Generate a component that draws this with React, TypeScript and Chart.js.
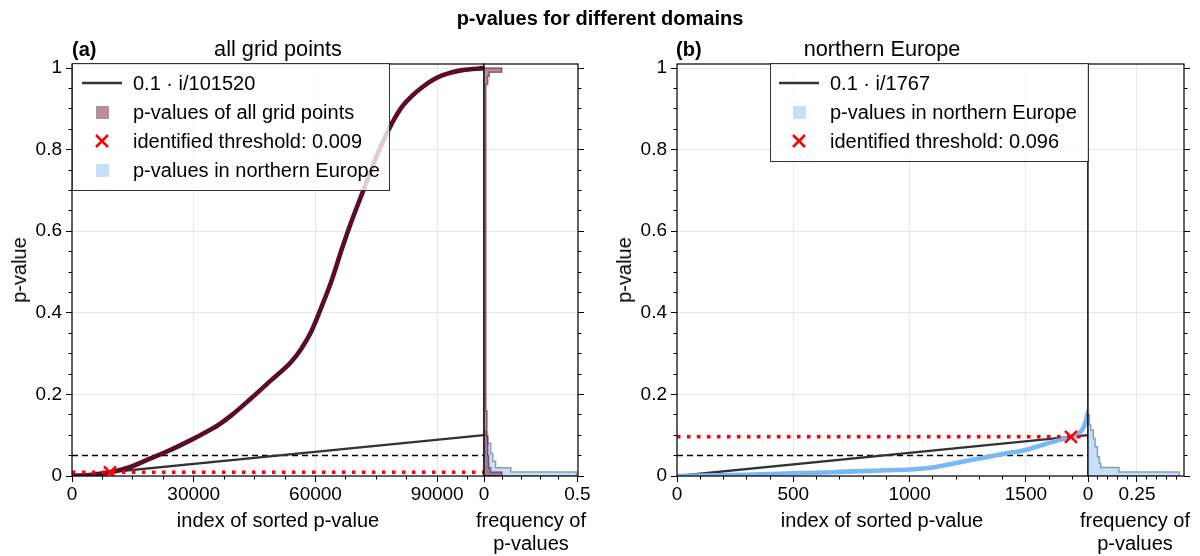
import React, { useEffect, useRef } from "react";
import { Chart, registerables } from "chart.js";

Chart.register(...registerables);

const FONT = "'Liberation Sans', Arial, Helvetica, sans-serif";
Chart.defaults.font.family = FONT;
Chart.defaults.color = "#000";

// ---------- shared axis values ----------
const P_TICKS = [0, 0.2, 0.4, 0.6, 0.8, 1];
const P_MINOR_STEP = 0.05;
const P_MAX = 1.01;
const FDR_Q = 0.1; // end value of the 0.1 · i/N reference line
const HALF_LEVEL = 0.05; // dashed reference level

// ---------- panel (a): all grid points ----------
const A_N = 101520;
const A_INDEX = [0, 5000, 9360, 14400, 19340, 24300, 29260, 34700, 35600, 39200, 44100, 49100, 54050, 56500, 59000, 61500, 64000, 66450, 68900, 71400, 73900, 76400, 78850, 81300, 83800, 86300, 88800, 91200, 93700, 96200, 101520];
const A_PVALUE = [0, 0.003, 0.009, 0.022, 0.043, 0.064, 0.088, 0.117, 0.122, 0.148, 0.19, 0.235, 0.28, 0.312, 0.355, 0.415, 0.48, 0.555, 0.625, 0.69, 0.755, 0.815, 0.865, 0.905, 0.932, 0.953, 0.97, 0.982, 0.99, 0.995, 1.0];
const A_THRESHOLD = 0.009;
const A_THRESHOLD_INDEX = 9360;
const A_INDEX_TICKS = [0, 30000, 60000, 90000];
const A_INDEX_MINOR_STEP = 7500;
const A_FREQ_TICKS = [0, 0.5];
const A_FREQ_MINOR_STEP = 0.1;
const A_FREQ_MAX = 0.503;
const A_ALL_EDGES = [0, 0.01, 0.02, 0.05, 0.1, 0.16, 0.96, 0.98, 0.99, 1.0];
const A_ALL_FREQ = [0.095, 0.035, 0.025, 0.02, 0.016, 0.01, 0.02, 0.028, 0.095];
const A_NE_EDGES = [0, 0.01, 0.02, 0.036, 0.055, 0.08, 0.097, 0.11];
const A_NE_FREQ = [0.495, 0.143, 0.062, 0.047, 0.036, 0.02, 0.012];

// ---------- panel (b): northern Europe ----------
const B_N = 1767;
const B_INDEX = [0, 100, 200, 300, 400, 500, 600, 700, 800, 900, 1000, 1100, 1200, 1300, 1400, 1500, 1570, 1641, 1694, 1725, 1740, 1750, 1758, 1764, 1767];
const B_PVALUE = [0, 0.001, 0.002, 0.003, 0.005, 0.0065, 0.008, 0.01, 0.012, 0.014, 0.016, 0.021, 0.032, 0.043, 0.054, 0.064, 0.076, 0.088, 0.096, 0.104, 0.112, 0.122, 0.135, 0.15, 0.157];
const B_THRESHOLD = 0.096;
const B_THRESHOLD_INDEX = 1694;
const B_INDEX_TICKS = [0, 500, 1000, 1500];
const B_INDEX_MINOR_STEP = 100;
const B_FREQ_TICKS = [0, 0.25];
const B_FREQ_MINOR_STEP = 0.05;
const B_FREQ_MAX = 0.49;
const B_NE_EDGES = [0, 0.01, 0.021, 0.031, 0.047, 0.072, 0.092, 0.113, 0.125, 0.15];
const B_NE_FREQ = [0.466, 0.158, 0.065, 0.058, 0.048, 0.036, 0.027, 0.014, 0.007];

// ---------- colours ----------
const MAROON = "#5c0b29";
const MAROON_FILL = "rgba(91,10,39,0.46)";
const MAROON_EDGE = "rgba(91,10,39,0.55)";
const BLUE = "#78b8f4";
const BLUE_FILL = "#c6e0fa";
const BLUE_EDGE = "#8d9db3";
const GRID = "#e8e8e8";
const RED = "#ff0000";

type Pt = { x: number; y: number };
const pts = (xs: number[], ys: number[]): Pt[] => xs.map((x, i) => ({ x, y: ys[i] }));

function histOutline(edges: number[], freqs: number[]): Pt[] {
  const out: Pt[] = [{ x: 0, y: edges[0] }];
  freqs.forEach((f, i) => {
    out.push({ x: f, y: edges[i] });
    out.push({ x: f, y: edges[i + 1] });
  });
  out.push({ x: 0, y: edges[edges.length - 1] });
  return out;
}

const axesDecor = {
  id: "axesDecor",
  afterDatasetsDraw(chart: any, _args: any, opts: any) {
    const { ctx, chartArea: a } = chart;
    ctx.save();
    ctx.strokeStyle = "#000";
    ctx.lineWidth = 1;
    for (const t of opts.ticks || []) {
      const s = chart.scales[t.id];
      const n = Math.floor((s.max - s.min) / t.minor + 1e-6);
      for (let k = 0; k <= n; k++) {
        const v = s.min + k * t.minor;
        const isMajor = t.majors.some((m: number) => Math.abs(m - v) < t.minor * 1e-3);
        const len = isMajor ? 6 : 3.5;
        const p = Math.floor(s.getPixelForValue(v)) + 0.5;
        ctx.beginPath();
        if (t.side === "bottom") {
          ctx.moveTo(p, a.bottom);
          ctx.lineTo(p, a.bottom + len);
        } else if (t.side === "left") {
          ctx.moveTo(a.left - len, p);
          ctx.lineTo(a.left, p);
        } else {
          ctx.moveTo(a.right, p);
          ctx.lineTo(a.right + len, p);
        }
        ctx.stroke();
      }
    }
    ctx.lineWidth = 1.2;
    ctx.strokeRect(a.left, a.top, a.right - a.left, a.bottom - a.top);
    ctx.restore();
  },
};

function lineDs(data: Pt[], color: string, width: number, order: number, dash: number[] = []) {
  return { data, borderColor: color, borderWidth: width, borderDash: dash, pointRadius: 0, fill: false, order, tension: 0 };
}

const tickFont = { size: 19, family: FONT };

function mainConfig(o: any) {
  return {
    type: "line",
    data: {
      datasets: [
        {
          ...lineDs([{ x: o.thrIdx, y: o.thr }], RED, 2.5, 0),
          showLine: false,
          pointStyle: "crossRot",
          pointRadius: 8.5,
          pointBorderWidth: 2.5,
          pointBorderColor: RED,
          pointBackgroundColor: RED,
        },
        lineDs([{ x: 0, y: o.thr }, { x: o.n, y: o.thr }], RED, 3.5, 1, [3.5, 6.5]),
        { ...lineDs(pts(o.index, o.pvalue), o.color, 4.6, 2), cubicInterpolationMode: "monotone", borderCapStyle: "round", borderJoinStyle: "round" },
        lineDs([{ x: 0, y: 0 }, { x: o.n, y: FDR_Q }], "#333333", 2.3, 3),
        lineDs([{ x: 0, y: HALF_LEVEL }, { x: o.n, y: HALF_LEVEL }], "#000", 1.5, 4, [6, 4]),
      ],
    },
    plugins: [axesDecor],
    options: {
      responsive: false,
      animation: false,
      events: [],
      layout: { padding: { left: 0, right: o.padRight, top: 64, bottom: 0 } },
      plugins: {
        legend: { display: false },
        tooltip: { enabled: false },
        axesDecor: {
          ticks: [
            { id: "x", side: "bottom", minor: o.xMinor, majors: o.xTicks },
            { id: "y", side: "left", minor: P_MINOR_STEP, majors: P_TICKS },
          ],
        },
      },
      scales: {
        x: {
          type: "linear",
          min: 0,
          max: o.n,
          afterBuildTicks: (s: any) => { s.ticks = o.xTicks.map((v: number) => ({ value: v })); },
          afterFit: (s: any) => { s.height = 80; },
          grid: { color: GRID, drawTicks: false },
          border: { display: false },
          ticks: { padding: 7, color: "#000", font: tickFont, autoSkip: false, maxRotation: 0, callback: (v: any) => String(v) },
        },
        y: {
          type: "linear",
          min: 0,
          max: P_MAX,
          afterBuildTicks: (s: any) => { s.ticks = P_TICKS.map((v) => ({ value: v })); },
          afterFit: (s: any) => { s.width = o.yWidth; },
          grid: { color: GRID, drawTicks: false },
          border: { display: false },
          ticks: { padding: 10, color: "#000", font: tickFont, autoSkip: false, callback: (v: any) => String(v) },
        },
      },
    },
  };
}

function histConfig(o: any) {
  return {
    type: "line",
    data: {
      datasets: o.layers.map((l: any) => ({
        data: histOutline(l.edges, l.freq),
        borderColor: l.edge,
        borderWidth: 1.5,
        backgroundColor: l.fill,
        fill: "shape",
        pointRadius: 0,
        tension: 0,
        order: l.order,
      })),
    },
    plugins: [axesDecor],
    options: {
      responsive: false,
      animation: false,
      events: [],
      layout: { padding: { left: o.padLeft, right: o.padRight, top: 64, bottom: 0 } },
      plugins: {
        legend: { display: false },
        tooltip: { enabled: false },
        axesDecor: {
          ticks: [
            { id: "x", side: "bottom", minor: o.xMinor, majors: o.xTicks },
            { id: "y", side: "right", minor: P_MINOR_STEP, majors: P_TICKS },
          ],
        },
      },
      scales: {
        x: {
          type: "linear",
          min: 0,
          max: o.xMax,
          afterBuildTicks: (s: any) => { s.ticks = o.xTicks.map((v: number) => ({ value: v })); },
          afterFit: (s: any) => { s.height = 80; },
          grid: { color: GRID, drawTicks: false },
          border: { display: false },
          ticks: { padding: 7, color: "#000", font: tickFont, autoSkip: false, maxRotation: 0, callback: (v: any) => String(v) },
        },
        y: {
          type: "linear",
          position: "left",
          min: 0,
          max: P_MAX,
          afterBuildTicks: (s: any) => { s.ticks = P_TICKS.map((v) => ({ value: v })); },
          afterFit: (s: any) => { s.width = 0; },
          grid: { color: GRID, drawTicks: false },
          border: { display: false },
          ticks: { display: false },
        },
      },
    },
  };
}

function ChartCanvas({ left, width, config }: { left: number; width: number; config: () => any }) {
  const ref = useRef<HTMLCanvasElement>(null);
  useEffect(() => {
    const chart = new Chart(ref.current as HTMLCanvasElement, config());
    return () => chart.destroy();
  }, []);
  return (
    <canvas
      ref={ref}
      width={width}
      height={556}
      style={{ position: "absolute", left, top: 0, width, height: 556 }}
    />
  );
}

function Text({ children, cx, cy, left, size = 20, bold = false, rotate = false }: any) {
  const lh = Math.round(size * 1.2);
  const style: any = {
    position: "absolute",
    whiteSpace: "nowrap",
    fontFamily: FONT,
    fontSize: size,
    lineHeight: lh + "px",
    fontWeight: bold ? "bold" : "normal",
    color: "#000",
  };
  if (rotate) {
    style.left = cx;
    style.top = cy;
    style.transform = "translate(-50%, -50%) rotate(-90deg)";
  } else if (left !== undefined) {
    style.left = left;
    style.top = cy - lh / 2;
  } else {
    style.left = cx;
    style.top = cy - lh / 2;
    style.transform = "translateX(-50%)";
  }
  return <div style={style}>{children}</div>;
}

function LegendMarker({ kind, x, y, color }: any) {
  if (kind === "line") {
    return (
      <svg style={{ position: "absolute", left: x - 20, top: y - 3 }} width={40} height={6}>
        <line x1={0} y1={3} x2={40} y2={3} stroke="#333" strokeWidth={2.3} />
      </svg>
    );
  }
  if (kind === "square") {
    return <div style={{ position: "absolute", left: x - 6.5, top: y - 6.5, width: 13, height: 13, background: color }} />;
  }
  return (
    <svg style={{ position: "absolute", left: x - 7, top: y - 7 }} width={14} height={14}>
      <line x1={1} y1={1} x2={13} y2={13} stroke={RED} strokeWidth={2.5} />
      <line x1={13} y1={1} x2={1} y2={13} stroke={RED} strokeWidth={2.5} />
    </svg>
  );
}

function Legend({ box, rows, markerX, textX }: any) {
  return (
    <>
      <div
        style={{
          position: "absolute",
          left: box[0],
          top: box[1],
          width: box[2] - box[0],
          height: box[3] - box[1],
          border: "1px solid #333",
          background: "rgba(255,255,255,0.8)",
          boxSizing: "border-box",
        }}
      />
      {rows.map((r: any, i: number) => (
        <React.Fragment key={i}>
          <LegendMarker kind={r.kind} x={markerX} y={r.y} color={r.color} />
          <Text left={textX} cy={r.y}>{r.label}</Text>
        </React.Fragment>
      ))}
    </>
  );
}

export default function App() {
  useEffect(() => {
    document.body.style.margin = "0";
  }, []);

  const mainA = () =>
    mainConfig({
      index: A_INDEX, pvalue: A_PVALUE, n: A_N, color: MAROON, thr: A_THRESHOLD, thrIdx: A_THRESHOLD_INDEX,
      xTicks: A_INDEX_TICKS, xMinor: A_INDEX_MINOR_STEP, yWidth: 72, padRight: 16,
    });
  const histA = () =>
    histConfig({
      layers: [
        { edges: A_NE_EDGES, freq: A_NE_FREQ, fill: BLUE_FILL, edge: BLUE_EDGE, order: 2 },
        { edges: A_ALL_EDGES, freq: A_ALL_FREQ, fill: MAROON_FILL, edge: MAROON_EDGE, order: 1 },
      ],
      xMax: A_FREQ_MAX, xTicks: A_FREQ_TICKS, xMinor: A_FREQ_MINOR_STEP, padLeft: 14, padRight: 22,
    });
  const mainB = () =>
    mainConfig({
      index: B_INDEX, pvalue: B_PVALUE, n: B_N, color: BLUE, thr: B_THRESHOLD, thrIdx: B_THRESHOLD_INDEX,
      xTicks: B_INDEX_TICKS, xMinor: B_INDEX_MINOR_STEP, yWidth: 77, padRight: 12,
    });
  const histB = () =>
    histConfig({
      layers: [{ edges: B_NE_EDGES, freq: B_NE_FREQ, fill: BLUE_FILL, edge: BLUE_EDGE, order: 1 }],
      xMax: B_FREQ_MAX, xTicks: B_FREQ_TICKS, xMinor: B_FREQ_MINOR_STEP, padLeft: 18, padRight: 16,
    });

  return (
    <div style={{ position: "fixed", left: 0, top: 0, width: 1200, height: 556, background: "#fff", overflow: "hidden" }}>
      <ChartCanvas left={0} width={500} config={mainA} />
      <ChartCanvas left={470} width={130} config={histA} />
      <ChartCanvas left={600} width={500} config={mainB} />
      <ChartCanvas left={1070} width={130} config={histB} />

      <Text cx={600} cy={18} bold>p-values for different domains</Text>

      <Text left={72} cy={49} bold>(a)</Text>
      <Text cx={278} cy={49} size={21.7}>all grid points</Text>
      <Text left={676} cy={49} bold>(b)</Text>
      <Text cx={882} cy={49} size={21.7}>northern Europe</Text>

      <Text cx={19} cy={270} rotate>p-value</Text>
      <Text cx={624} cy={270} rotate>p-value</Text>

      <Text cx={278} cy={520}>index of sorted p-value</Text>
      <Text cx={882} cy={520}>index of sorted p-value</Text>
      <Text cx={531} cy={520}>frequency of</Text>
      <Text cx={531} cy={543}>p-values</Text>
      <Text cx={1135} cy={520}>frequency of</Text>
      <Text cx={1135} cy={543}>p-values</Text>

      <Legend
        box={[72, 63, 390, 191]}
        markerX={102}
        textX={133}
        rows={[
          { kind: "line", y: 83, label: "0.1 · i/101520" },
          { kind: "square", y: 112, color: MAROON_FILL, label: "p-values of all grid points" },
          { kind: "cross", y: 141, label: "identified threshold: 0.009" },
          { kind: "square", y: 170, color: BLUE_FILL, label: "p-values in northern Europe" },
        ]}
      />
      <Legend
        box={[770, 63, 1089, 162]}
        markerX={799}
        textX={830}
        rows={[
          { kind: "line", y: 83, label: "0.1 · i/1767" },
          { kind: "square", y: 112, color: BLUE_FILL, label: "p-values in northern Europe" },
          { kind: "cross", y: 141, label: "identified threshold: 0.096" },
        ]}
      />
    </div>
  );
}
